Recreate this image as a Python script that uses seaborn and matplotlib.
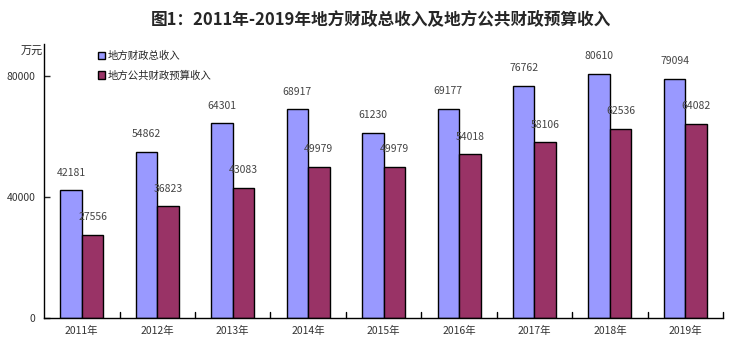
import matplotlib
matplotlib.use("Agg")
import matplotlib.pyplot as plt
import seaborn as sns
import pandas as pd

years = ["2011年", "2012年", "2013年", "2014年", "2015年", "2016年", "2017年", "2018年", "2019年"]
total_income = [42181, 54862, 64301, 68917, 61230, 69177, 76762, 80610, 79094]
budget_income = [27556, 36823, 43083, 49979, 49979, 54018, 58106, 62536, 64082]
series_names = ["地方财政总收入", "地方公共财政预算收入"]
colors = ["#9999FF", "#993366"]

sns.set_theme(style="white")
plt.rcParams["font.family"] = ["Noto Sans CJK SC", "DejaVu Sans"]

df = pd.DataFrame({
    "year": years * 2,
    "value": total_income + budget_income,
    "series": [series_names[0]] * len(years) + [series_names[1]] * len(years),
})

fig = plt.figure(figsize=(7.47, 3.58), dpi=100)
ax = fig.add_axes([0.059, 0.112, 0.909, 0.765])

sns.barplot(data=df, x="year", y="value", hue="series", palette=colors,
            width=0.57, edgecolor="black", linewidth=1.0, ax=ax, saturation=1)

for cont in ax.containers:
    ax.bar_label(cont, fmt="%d", padding=9, fontsize=7.5, color="#444444")

ax.set_ylim(0, 90500)
ax.set_xlim(-0.5, len(years) - 0.5)
ax.set_yticks([0, 40000, 80000])
ax.set_yticklabels(["0", "40000", "80000"], fontsize=7.5, color="#333333")
ax.set_xlabel("")
ax.set_ylabel("")
ax.tick_params(axis="x", length=0, labelsize=7.5, pad=6, labelcolor="#333333")
ax.tick_params(axis="y", direction="in", length=4, width=1, left=True, labelsize=7.5, pad=6)
for b in [i + 0.5 for i in range(len(years))]:
    ax.plot([b, b], [0, 1800], color="black", lw=1, clip_on=False)

for s in ["top", "right"]:
    ax.spines[s].set_visible(False)
for s in ["left", "bottom"]:
    ax.spines[s].set_color("black")
    ax.spines[s].set_linewidth(1.0)

leg = ax.legend(loc="upper left", bbox_to_anchor=(0.065, 1.01), frameon=False,
                fontsize=7.5, handlelength=0.7, handleheight=0.7, handletextpad=0.3,
                labelspacing=0.9)

fig.text(0.028, 0.855, "万元", fontsize=8, ha="left", va="center")
fig.suptitle("图1：2011年-2019年地方财政总收入及地方公共财政预算收入", x=0.51, y=0.968,
             fontsize=12, fontweight="bold")

fig.savefig("out.png", dpi=100)
